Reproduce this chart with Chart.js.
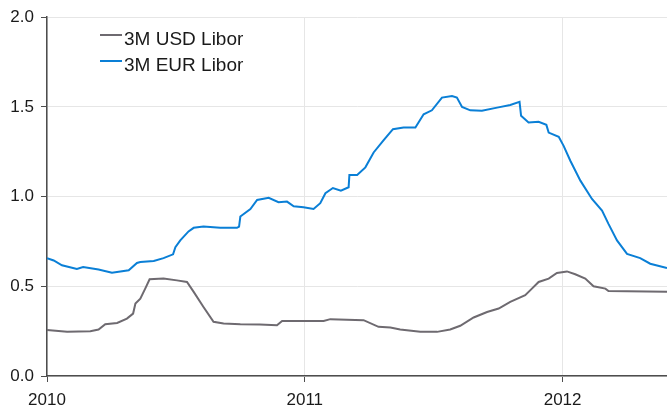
<!DOCTYPE html>
<html>
<head>
<meta charset="utf-8">
<script src="https://cdn.jsdelivr.net/npm/chart.js@4"></script>
<style>
  body { margin: 0; background: #fff; }
  #wrap { width: 667px; height: 409px; }
</style>
</head>
<body>
<div id="wrap"><canvas id="liborChart" width="667" height="409"></canvas></div>
<script>
  // decimal years
  const usdYears = [2010.0, 2010.078, 2010.168, 2010.200, 2010.226, 2010.272, 2010.310, 2010.334, 2010.343, 2010.362,
    2010.381, 2010.398, 2010.452, 2010.504, 2010.543, 2010.569, 2010.607, 2010.646, 2010.685, 2010.750,
    2010.825, 2010.892, 2010.912, 2011.073, 2011.099, 2011.228, 2011.286, 2011.332, 2011.370, 2011.448,
    2011.513, 2011.564, 2011.603, 2011.655, 2011.707, 2011.752, 2011.797, 2011.855, 2011.881, 2011.907,
    2011.946, 2011.978, 2012.017, 2012.049, 2012.088, 2012.120, 2012.166, 2012.178, 2012.250, 2012.405];
  const usdLibor = [0.256, 0.246, 0.250, 0.259, 0.289, 0.296, 0.320, 0.348, 0.404, 0.431,
    0.487, 0.539, 0.543, 0.533, 0.524, 0.469, 0.385, 0.302, 0.293, 0.289,
    0.287, 0.283, 0.307, 0.307, 0.317, 0.311, 0.274, 0.270, 0.259, 0.246,
    0.246, 0.259, 0.280, 0.326, 0.357, 0.376, 0.413, 0.450, 0.487, 0.524,
    0.543, 0.574, 0.583, 0.567, 0.543, 0.500, 0.487, 0.474, 0.472, 0.469];

  const eurYears = [2010.0, 2010.026, 2010.058, 2010.116, 2010.140, 2010.200, 2010.252, 2010.317, 2010.349, 2010.362,
    2010.414, 2010.452, 2010.489, 2010.498, 2010.517, 2010.549, 2010.569, 2010.607, 2010.672, 2010.737,
    2010.745, 2010.750, 2010.789, 2010.815, 2010.860, 2010.898, 2010.931, 2010.957, 2010.995, 2011.034,
    2011.060, 2011.080, 2011.109, 2011.140, 2011.170, 2011.173, 2011.203, 2011.235, 2011.267, 2011.306,
    2011.342, 2011.383, 2011.429, 2011.461, 2011.493, 2011.532, 2011.571, 2011.590, 2011.610, 2011.642,
    2011.687, 2011.746, 2011.797, 2011.833, 2011.839, 2011.868, 2011.907, 2011.937, 2011.946, 2011.985,
    2012.004, 2012.030, 2012.069, 2012.114, 2012.153, 2012.178, 2012.211, 2012.250, 2012.301, 2012.340,
    2012.405];
  const eurLibor = [0.657, 0.644, 0.617, 0.596, 0.607, 0.594, 0.576, 0.589, 0.630, 0.635,
    0.641, 0.657, 0.678, 0.718, 0.756, 0.806, 0.826, 0.833, 0.826, 0.826,
    0.833, 0.889, 0.931, 0.981, 0.993, 0.969, 0.972, 0.946, 0.941, 0.931,
    0.963, 1.019, 1.048, 1.033, 1.052, 1.120, 1.120, 1.163, 1.246, 1.315,
    1.376, 1.385, 1.385, 1.459, 1.481, 1.552, 1.561, 1.552, 1.500, 1.481,
    1.478, 1.496, 1.511, 1.528, 1.450, 1.413, 1.417, 1.400, 1.357, 1.333,
    1.283, 1.200, 1.089, 0.987, 0.922, 0.848, 0.756, 0.681, 0.657, 0.626,
    0.602];

  const yTicks = [0, 0.5, 1.0, 1.5, 2.0];

  const toPoints = (xs, ys) => xs.map((x, i) => ({ x: x, y: ys[i] }));

  // legend drawn inside the plot, top left
  const insideLegend = {
    id: 'insideLegend',
    afterDraw(chart) {
      const c = chart.ctx;
      c.save();
      chart.data.datasets.forEach((ds, i) => {
        const y = 35 + i * 26;
        c.strokeStyle = ds.borderColor;
        c.lineWidth = 2;
        c.beginPath();
        c.moveTo(100, y);
        c.lineTo(122, y);
        c.stroke();
        c.fillStyle = '#1a1a1a';
        c.font = '19px "Liberation Sans", Arial, sans-serif';
        c.textBaseline = 'alphabetic';
        c.fillText(ds.label, 124, y + 9.5);
      });
      c.restore();
    }
  };

  const ctx = document.getElementById('liborChart').getContext('2d');

  new Chart(ctx, {
    type: 'line',
    data: {
      datasets: [{
        label: '3M USD Libor',
        data: toPoints(usdYears, usdLibor),
        borderColor: '#6e6a70',
        borderWidth: 2,
        pointRadius: 0,
        tension: 0
      }, {
        label: '3M EUR Libor',
        data: toPoints(eurYears, eurLibor),
        borderColor: '#0a7fd6',
        borderWidth: 2,
        pointRadius: 0,
        tension: 0
      }]
    },
    options: {
      responsive: false,
      animation: false,
      layout: { padding: { top: 16, right: 0, left: 0, bottom: 0 } },
      plugins: {
        legend: { display: false },
        tooltip: { enabled: false }
      },
      scales: {
        x: {
          type: 'linear',
          min: 2010,
          max: 2012.405,
          afterFit: (s) => { s.height = 33; },
          grid: { color: '#e6e6e6', tickColor: '#4d4d4d', tickLength: 6 },
          border: { color: '#4d4d4d', width: 1.5 },
          ticks: {
            stepSize: 1,
            includeBounds: false,
            maxRotation: 0,
            padding: 8,
            color: '#1a1a1a',
            font: { family: '"Liberation Sans", Arial, sans-serif', size: 17 },
            callback: (v) => String(v)
          }
        },
        y: {
          min: 0,
          max: 2,
          afterFit: (s) => { s.width = 47; },
          afterBuildTicks: (s) => { s.ticks = yTicks.map(v => ({ value: v })); },
          grid: { color: '#e6e6e6', tickColor: '#4d4d4d', tickLength: 6 },
          border: { color: '#4d4d4d', width: 1.5 },
          ticks: {
            padding: 7,
            color: '#1a1a1a',
            font: { family: '"Liberation Sans", Arial, sans-serif', size: 17 },
            callback: (v) => v.toFixed(1)
          }
        }
      }
    },
    plugins: [insideLegend]
  });
</script>
</body>
</html>
